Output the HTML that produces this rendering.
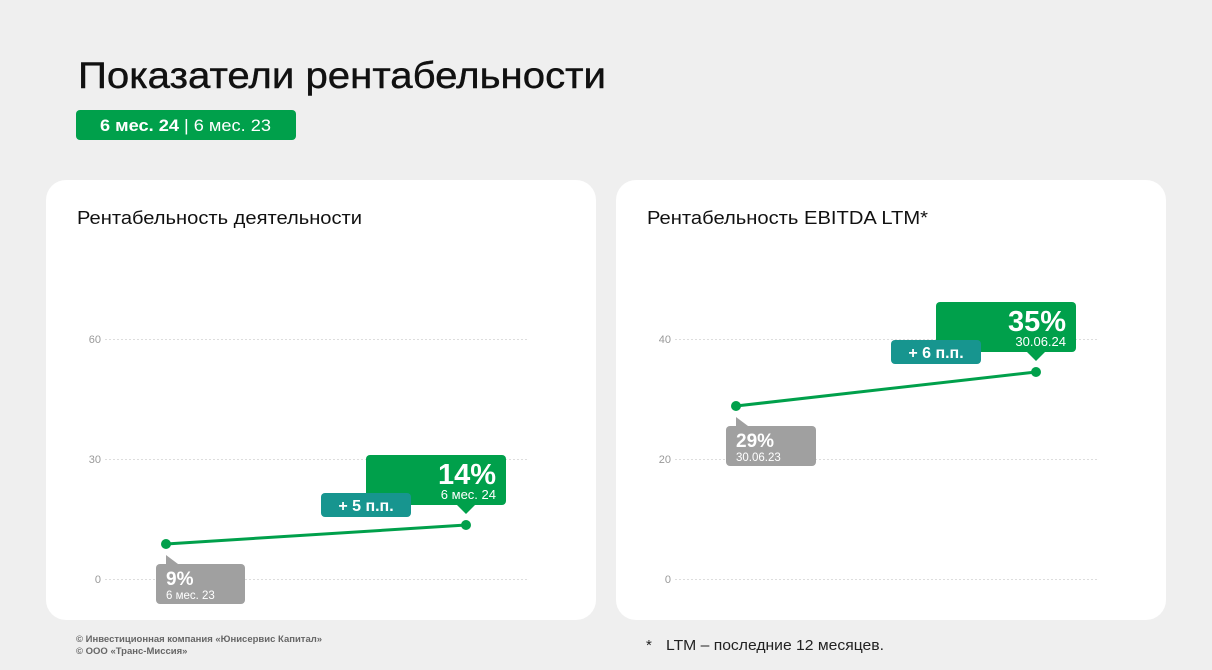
<!DOCTYPE html>
<html><head><meta charset="utf-8"><style>
html,body{margin:0;padding:0;background:#efefef}
svg{display:block;font-family:"Liberation Sans",sans-serif}
</style></head><body>
<svg width="1212" height="670" viewBox="0 0 1212 670" xmlns="http://www.w3.org/2000/svg">
<rect width="1212" height="670" fill="#efefef"/>
<text x="78" y="88" font-size="37" fill="#111" stroke="#111" stroke-width="0.4" textLength="528" lengthAdjust="spacingAndGlyphs">Показатели рентабельности</text>
<rect x="76" y="110" width="220" height="30" rx="4" fill="#00a04b"/>
<text x="100" y="131" font-size="17" fill="#fff" textLength="171" lengthAdjust="spacingAndGlyphs"><tspan font-weight="bold">6 мес. 24</tspan> | 6 мес. 23</text>

<rect x="46" y="180" width="550" height="440" rx="20" fill="#fff"/>
<rect x="616" y="180" width="550" height="440" rx="20" fill="#fff"/>
<text x="77" y="224" font-size="18" fill="#111" textLength="285" lengthAdjust="spacingAndGlyphs">Рентабельность деятельности</text>
<text x="647" y="224" font-size="18" fill="#111" textLength="281" lengthAdjust="spacingAndGlyphs">Рентабельность EBITDA LTM*</text>

<g stroke="#ddd" stroke-width="1" stroke-dasharray="2,2">
<line x1="105" y1="339.5" x2="527" y2="339.5"/><line x1="105" y1="459.5" x2="527" y2="459.5"/><line x1="105" y1="579.5" x2="527" y2="579.5"/>
<line x1="675" y1="339.5" x2="1097" y2="339.5"/><line x1="675" y1="459.5" x2="1097" y2="459.5"/><line x1="675" y1="579.5" x2="1097" y2="579.5"/>
</g>
<g font-size="11" fill="#999" text-anchor="end">
<text x="101" y="343">60</text><text x="101" y="463">30</text><text x="101" y="583">0</text>
<text x="671" y="343">40</text><text x="671" y="463">20</text><text x="671" y="583">0</text>
</g>

<!-- left chart -->
<line x1="166" y1="544" x2="466" y2="525" stroke="#00a04b" stroke-width="3"/>
<circle cx="166" cy="544" r="5" fill="#00a04b"/><circle cx="466" cy="525" r="5" fill="#00a04b"/>
<path d="M166,555 L178,564 L166,564Z" fill="#a0a0a0"/>
<rect x="156" y="564" width="89" height="40" rx="4" fill="#a0a0a0"/>
<text x="166" y="585" font-size="19" font-weight="bold" fill="#fff">9%</text>
<text x="166" y="599" font-size="11.5" fill="#fff">6 мес. 23</text>
<rect x="366" y="455" width="140" height="50" rx="4" fill="#00a04b"/>
<path d="M456,504 L466,514 L476,504Z" fill="#00a04b"/>
<text x="496" y="484" font-size="29" font-weight="bold" fill="#fff" text-anchor="end">14%</text>
<text x="496" y="499" font-size="13" fill="#fff" text-anchor="end">6 мес. 24</text>
<rect x="321" y="493" width="90" height="24" rx="4" fill="#17958f"/>
<text x="366" y="511" font-size="16" font-weight="bold" fill="#fff" text-anchor="middle">+ 5 п.п.</text>

<!-- right chart -->
<line x1="736" y1="406" x2="1036" y2="372" stroke="#00a04b" stroke-width="3"/>
<circle cx="736" cy="406" r="5" fill="#00a04b"/><circle cx="1036" cy="372" r="5" fill="#00a04b"/>
<path d="M736,417 L748,426 L736,426Z" fill="#a0a0a0"/>
<rect x="726" y="426" width="90" height="40" rx="4" fill="#a0a0a0"/>
<text x="736" y="447" font-size="19" font-weight="bold" fill="#fff">29%</text>
<text x="736" y="461" font-size="11.5" fill="#fff">30.06.23</text>
<rect x="936" y="302" width="140" height="50" rx="4" fill="#00a04b"/>
<path d="M1026,351 L1036,361 L1046,351Z" fill="#00a04b"/>
<text x="1066" y="331" font-size="29" font-weight="bold" fill="#fff" text-anchor="end">35%</text>
<text x="1066" y="346" font-size="13" fill="#fff" text-anchor="end">30.06.24</text>
<rect x="891" y="340" width="90" height="24" rx="4" fill="#17958f"/>
<text x="936" y="358" font-size="16" font-weight="bold" fill="#fff" text-anchor="middle">+ 6 п.п.</text>

<text x="76" y="642" font-size="9.5" fill="#666" font-weight="bold">© Инвестиционная компания «Юнисервис Капитал»</text>
<text x="76" y="654" font-size="9.5" fill="#666" font-weight="bold">© ООО «Транс-Миссия»</text>
<text x="646" y="650" font-size="15" fill="#222">*</text>
<text x="666" y="650" font-size="15" fill="#222" textLength="218" lengthAdjust="spacingAndGlyphs">LTM – последние 12 месяцев.</text>
</svg>
</body></html>
